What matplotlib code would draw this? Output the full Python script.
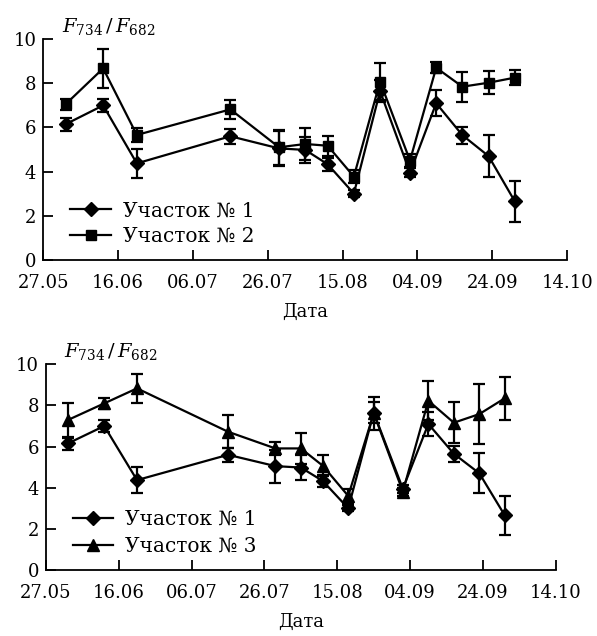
import numpy as np
import matplotlib
matplotlib.use('Agg')
import matplotlib.pyplot as plt
import matplotlib.dates as mdates
import pandas as pd

plt.rcParams['font.family'] = ['DejaVu Serif']
plt.rcParams['mathtext.fontset'] = 'dejavuserif'
plt.rcParams['font.size'] = 13

# даты измерений
dates = ['02.06', '12.06', '21.06', '16.07', '29.07', '05.08', '11.08',
         '18.08', '25.08', '02.09', '09.09', '16.09', '23.09', '30.09']
tick_dates = ['27.05', '16.06', '06.07', '26.07', '15.08', '04.09', '24.09', '14.10']

# Участок № 1
plot1 = [6.15, 7.0, 4.37, 5.6, 5.05, 4.98, 4.33, 3.0, 7.65, 3.95, 7.1, 5.65, 4.7, 2.65]
plot1_err = [0.3, 0.3, 0.65, 0.35, 0.8, 0.6, 0.3, 0.15, 0.5, 0.2, 0.6, 0.38, 0.97, 0.93]
# Участок № 2
plot2 = [7.06, 8.68, 5.66, 6.82, 5.1, 5.25, 5.17, 3.77, 8.08, 4.5, 8.71, 7.85, 8.03, 8.26]
plot2_err = [0.25, 0.9, 0.3, 0.43, 0.8, 0.72, 0.45, 0.3, 0.85, 0.3, 0.25, 0.68, 0.53, 0.35]
# Участок № 3
plot3 = [7.29, 8.1, 8.83, 6.72, 5.91, 5.91, 5.07, 3.6, 7.62, 3.81, 8.23, 7.16, 7.58, 8.35]
plot3_err = [0.85, 0.25, 0.7, 0.8, 0.3, 0.75, 0.5, 0.35, 0.8, 0.2, 0.95, 1.0, 1.45, 1.05]


def to_dt(lst):
    return pd.to_datetime([d + '.2010' for d in lst], format='%d.%m.%Y')


x = to_dt(dates)
ticks = to_dt(tick_dates)

fig = plt.figure(figsize=(5.97, 6.36), dpi=100)
ax1 = fig.add_axes([0.0725, 0.5917, 0.8775, 0.3465])
ax2 = fig.add_axes([0.077, 0.1038, 0.854, 0.3234])


def draw(ax, y2, e2, mk2, ms2, lab2, leg_y, spacing):
    ax.errorbar(x, plot1, yerr=plot1_err, color='black', lw=1.6, marker='D', ms=7.5,
                capsize=4, elinewidth=1.6, capthick=1.6, label='Участок № 1')
    ax.errorbar(x, y2, yerr=e2, color='black', lw=1.6, marker=mk2, ms=ms2,
                capsize=4, elinewidth=1.6, capthick=1.6, label=lab2)
    ax.set_xlim(ticks[0], ticks[-1])
    ax.set_ylim(0, 10)
    ax.set_yticks(np.arange(0, 11, 2))
    ax.set_xticks(ticks)
    ax.xaxis.set_major_formatter(mdates.DateFormatter('%d.%m'))
    ax.spines['top'].set_visible(False)
    ax.spines['right'].set_visible(False)
    ax.spines['left'].set_linewidth(1.3)
    ax.spines['bottom'].set_linewidth(1.3)
    ax.tick_params(direction='in', length=7, width=1.3, labelsize=13)
    ax.tick_params(axis='x', pad=10)
    ax.tick_params(axis='y', pad=5)
    ax.set_xlabel('Дата', labelpad=8, fontsize=13)
    ax.text(0.035, 1.01, r'$F_{734}\,/\,F_{682}$', transform=ax.transAxes, fontsize=14,
            va='bottom', ha='left')
    h, l = ax.get_legend_handles_labels()
    h = [hh[0] for hh in h]
    ax.legend(h, l, loc='lower left', bbox_to_anchor=(0.025, leg_y), frameon=False,
              handlelength=2.0, handletextpad=0.6, labelspacing=spacing, fontsize=14.5,
              borderaxespad=0.3)


draw(ax1, plot2, plot2_err, 's', 7, 'Участок № 2', 0.0, 0.3)
draw(ax2, plot3, plot3_err, '^', 8.5, 'Участок № 3', 0.0, 0.4)

fig.savefig('out.png', dpi=100)
